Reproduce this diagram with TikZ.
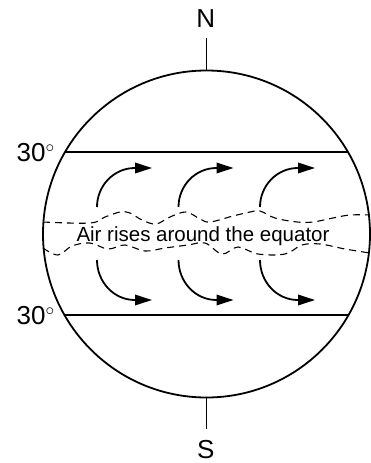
\documentclass[tikz,border=0pt]{standalone}
\usepackage{fontspec}
\setmainfont{Liberation Sans}
\usetikzlibrary{arrows.meta,calc}
\begin{document}
\begin{tikzpicture}[x=1pt,y=-1pt,
  globe/.style={line width=1.8pt},
  latline/.style={line width=1.2pt},
  pole/.style={line width=1.5pt},
  flow/.style={line width=1.8pt,-{Triangle[length=17pt,width=10.5pt]}},
  wave/.style={line width=1.1pt,dash pattern=on 7pt off 5pt},
  biglabel/.style={font=\fontsize{26}{28}\selectfont,inner sep=0pt},
  midlabel/.style={font=\fontsize{20.5}{22}\selectfont,inner sep=0pt}]
\useasboundingbox (0,0) rectangle (370,463);
\coordinate (c) at (206.5,234);
\draw[globe] (c) circle[radius=163.5];
\coordinate (top) at (206.5,70.5);
\coordinate (bot) at (206.5,397.5);
% latitude lines
\coordinate (tl) at ($(c)+(-141.5,-82)$);
\coordinate (tr) at ($(c)+(141.5,-82)$);
\coordinate (bl) at ($(c)+(-141.5,81)$);
\coordinate (br) at ($(c)+(141.5,81)$);
\draw[latline] (tl) -- (tr);
\draw[latline] (bl) -- (br);
% poles
\node[biglabel] (N) at (205.7,19) {N};
\node[biglabel] (S) at (205.7,450) {S};
\coordinate (nt) at (206.5,38);
\coordinate (sb) at (206.5,429);
\draw[pole] (nt) -- (top);
\draw[pole] (bot) -- (sb);
% latitude labels
\node[biglabel,anchor=base west] (l1) at (16.5,161.7) {30$^{\circ}$};
\node[biglabel,anchor=base west] (l2) at (16.5,324.3) {30$^{\circ}$};
% dashed wavy lines
\draw[wave] plot[smooth,tension=0.6] coordinates {(43,222) (90,223) (105,217) (120,212) (130,213) (142,220) (156,224) (170,217) (186,212) (200,219) (210,222) (233,216) (250,212) (260,211) (275,218) (297,222) (313,222) (333,218) (350,215) (370,215)};
\draw[wave] plot[smooth,tension=0.6] coordinates {(43,248) (58,255) (72,246) (90,243) (108,249) (125,245) (145,251) (165,248) (188,245) (205,243) (222,254) (238,247) (258,254) (285,254) (302,245) (320,244) (345,249) (370,253)};
% text
\node[midlabel,anchor=base] (txt) at (203,241.7) {Air rises around the equator};
% arrows
\foreach \i/\dx in {1/0,2/81.5,3/163}{
  \coordinate (us\i) at (97+\dx,207);
  \coordinate (um\i) at (135+\dx,168);
  \coordinate (ut\i) at (152+\dx,168);
  \coordinate (ls\i) at (97+\dx,260);
  \coordinate (lm\i) at (135+\dx,300);
  \coordinate (lt\i) at (152+\dx,300);
  \draw[flow] (us\i) to[out=90,in=180] (um\i) -- (ut\i);
  \draw[flow] (ls\i) to[out=270,in=180] (lm\i) -- (lt\i);
}
\end{tikzpicture}
\end{document}
